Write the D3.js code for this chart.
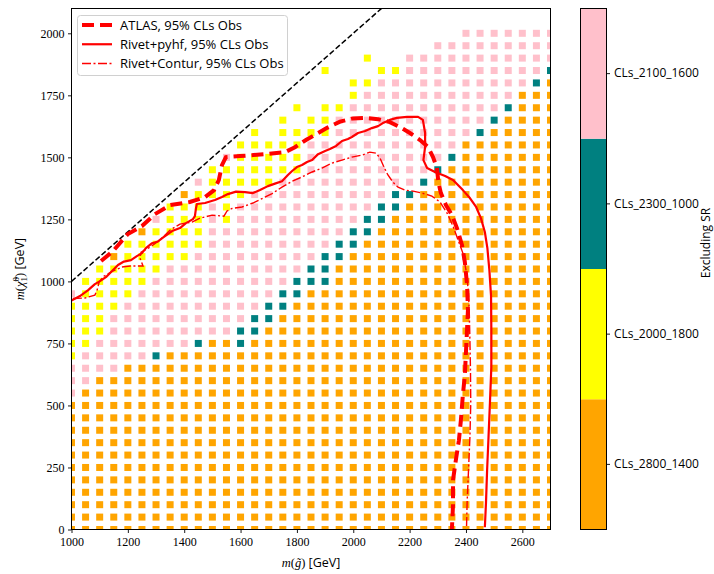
<!DOCTYPE html>
<html><head><meta charset="utf-8">
<script src="https://cdn.jsdelivr.net/npm/d3@7"></script>
<style>body{margin:0;background:#fff}svg{display:block}</style>
</head><body><svg id="chart" width="714" height="574"></svg>
<script>
// ---------------- data ----------------
const gluinoMass = [1000,1050,1100,1150,1200,1250,1300,1350,1400,1450,1500,1550,1600,1650,1700,1750,1800,1850,1900,1950,2000,2050,2100,2150,2200,2250,2300,2350,2400,2450,2500,2550,2600,2650,2700];
const neutralinoMass = [0,50,100,150,200,250,300,350,400,450,500,550,600,650,700,750,800,850,900,950,1000,1050,1100,1150,1200,1250,1300,1350,1400,1450,1500,1550,1600,1650,1700,1750,1800,1850,1900,1950,2000];
// one string per neutralino mass (bottom to top), one character per gluino mass
// O = CLs_2800_1400, Y = CLs_2000_1800, T = CLs_2300_1000, P = CLs_2100_1600, . = no point
const srRows = [
"OOOOO OOOOO OOOOO OOOOO OOOOO OOOOO OOOOO",
"OOOOO OOOOO OOOOO OOOOO OOOOO OOOOO OOOOO",
"OOOOO OOOOO OOOOO OOOOO OOOOO OOOOO OOOOO",
"OOOOO OOOOO OOOOO OOOOO OOOOO OOOOO OOOOO",
"OOOOO OOOOO OOOOO OOOOO OOOOO OOOOO OOOOO",
"OOOOO OOOOO OOOOO OOOOO OOOOO OOOOO OOOOO",
"OOOOO OOOOO OOOOO OOOOO OOOOO OOOOO OOOOO",
"OOOOO OOOOO OOOOO OOOOO OOOOO OOOOO OOOOO",
"OOOOO OOOOO OOOOO OOOOO OOOOO OOOOO OOOOO",
"OOOOO OOOOO OOOOO OOOOO OOOOO OOOOO OOOOO",
"OOOOO OOOOO OOOOO OOOOO OOOOO OOOOO OOOOO",
"POOOO OOOOO OOOOO OOOOO OOOOO OOOOO OOOOO",
"PPOOO OOOOO OOOOO OOOOO OOOOO OOOOO OOOOO",
"PPPPO OOOOO OOOOO OOOOO OOOOO OOOOO OOOOO",
"YPPPP PTOOO OOOOO OOOOO OOOOO OOOOO OOOOO",
"YYPPP PPPPT OOTOO OOOOO OOOOO OOOOO OOOOO",
"YYYPP PPPPP PPTTO OOOOO OOOOO OOOOO OOOOO",
"YYYPP PPPPP PPPTT OOOOO OOOOO OOOOO OOOOO",
"YYYYP PPPPP PPPPT TOOOO OOOOO OOOOO OOOOO",
"PYYYY PPPPP PPPPP TTOOO OOOOO OOOOO OOOOO",
".YYYY YPPPP PPPPP PTTTO OOOOO OOOOO OOOOO",
"..YYY YYPPP PPPPP PPTTO OOOOO OOOOO OOOOO",
"...OY YYYYP PPPPP PPPTT OOOOO OOOOO OOOOO",
"....Y YYYYY PPPPP PPPPT TOOOO OOOOO OOOOO",
"..... OYYYY PPPPP PPPPP TTOOO OOOOO OOOOO",
"..... .PYYY PYPPP PPPPP PTTOO OOOOO OOOOO",
"..... ..YYY PYPPP PPPPP PPTTO OOOOO OOOOO",
"..... ...OY YYYPP PPPPP PPPTT OOOOO OOOOO",
"..... ....P YYYYY PPPPP PPPPP TOOOO OOOOO",
"..... ..... YYYYY YYPPP PPPPP PTOOO OOOOO",
"..... ..... .PYYY YYPPP PPPPP PPTOO OOOOO",
"..... ..... ..YYY YYPPP PPPPP PPPOO OOOOO",
"..... ..... ...Y. YYYYP PPPPP PPPPT OOOOO",
"..... ..... ..... Y.YYP PPPPP PPPPP TOOOO",
"..... ..... ..... .Y.YY PPPPP PPPPP PTOOO",
"..... ..... ..... ..... YPPPP PPPPP PPOOO",
"..... ..... ..... ..... YYPPP PPPPP PPPTO",
"..... ..... ..... ...Y. ..YYP PPPPP PPPPT",
"..... ..... ..... ..... .Y..P PPPPP PPPPP",
"..... ..... ..... ..... ..... .PPPP PPPPP",
"..... ..... ..... ..... ..... ...PP PPPPP"
];
const srCodes = ["O","Y","T","P"];
const srCategories = ["CLs_2800_1400","CLs_2000_1800","CLs_2300_1000","CLs_2100_1600"];
const srColors = ["#ffa500","#ffff00","#008080","#ffc0cb"];

const atlasX = [1105,1147,1200,1250,1296,1350,1420,1474,1506,1523,1534,1548,1598,1687,1758,1793,1832,1864,1907,1953,1999,2042,2088,2130,2166,2201,2237,2265,2283,2297,2302,2311,2329,2350,2368,2386,2396,2404,2407,2402,2396,2389,2382,2375,2364,2354,2354,2350];
const atlasY = [1082,1122,1191,1223,1271,1308,1320,1340,1368,1409,1469,1501,1505,1513,1521,1541,1570,1590,1619,1644,1657,1659,1654,1642,1622,1598,1570,1542,1501,1457,1400,1356,1308,1267,1215,1146,1078,985,884,763,622,542,441,360,279,199,98,0];

const pyhfX = [1000,1030,1059,1083,1101,1122,1144,1165,1186,1211,1232,1250,1264,1286,1307,1328,1357,1385,1406,1431,1438,1442,1445,1474,1509,1534,1555,1584,1616,1644,1669,1697,1722,1747,1768,1783,1800,1818,1836,1854,1875,1900,1917,1939,1960,1981,1995,2017,2042,2066,2088,2105,2130,2155,2191,2230,2247,2255,2255,2249,2262,2290,2326,2354,2389,2414,2436,2453,2467,2476,2483,2489,2490,2490,2485,2480,2475,2471,2467];
const pyhfY = [923,941,965,989,1001,1017,1042,1066,1080,1086,1102,1114,1134,1154,1161,1179,1203,1215,1235,1251,1263,1296,1312,1316,1328,1340,1352,1362,1360,1356,1368,1384,1394,1404,1429,1445,1461,1469,1481,1489,1513,1526,1534,1546,1566,1574,1582,1598,1606,1618,1626,1638,1651,1659,1663,1663,1651,1598,1542,1489,1457,1441,1425,1409,1368,1336,1300,1255,1199,1134,1046,941,804,654,509,372,239,106,9];

const conturX = [1005,1048,1083,1091,1098,1115,1144,1179,1208,1254,1243,1247,1279,1314,1350,1385,1428,1456,1499,1541,1552,1570,1605,1644,1680,1712,1747,1783,1818,1854,1889,1925,1960,1995,2031,2059,2081,2095,2109,2123,2141,2159,2184,2212,2244,2279,2308,2333,2354,2372,2389,2402,2409,2412,2414,2416,2417,2414,2409,2404,2402];
const conturY = [931,933,945,965,997,1021,1040,1058,1062,1062,1094,1118,1138,1167,1207,1231,1239,1255,1267,1263,1284,1294,1300,1316,1336,1354,1380,1404,1421,1441,1457,1477,1489,1501,1509,1521,1517,1497,1461,1429,1400,1380,1368,1364,1356,1344,1320,1275,1223,1167,1114,1034,953,864,763,642,509,372,239,106,9];

const diagonalX = [1000,2700];
const diagonalY = [1000,2700];

const xTicks = [1000,1200,1400,1600,1800,2000,2200,2400,2600];
const yTicks = [0,250,500,750,1000,1250,1500,1750,2000];
const legendLabels = ["ATLAS, 95% CLs Obs","Rivet+pyhf, 95% CLs Obs","Rivet+Contur, 95% CLs Obs"];

// ---------------- drawing ----------------
const svg = d3.select("#chart");
svg.append("rect").attr("width",714).attr("height",574).attr("fill","#fff");

const L = 71.5, R = 550.5, T = 8.5, B = 529.5;
const x = d3.scaleLinear().domain([1000,2700]).range([L,R]);
const y = d3.scaleLinear().domain([0,2100]).range([B,T]);
const colorOf = d3.scaleOrdinal().domain(srCodes).range(srColors);

svg.append("defs").append("clipPath").attr("id","plotclip")
  .append("rect").attr("x",L).attr("y",T).attr("width",R-L).attr("height",B-T);

const plot = svg.append("g").attr("clip-path","url(#plotclip)");

const pts = [];
srRows.forEach((row,j)=>{
  const s = row.replace(/ /g,"");
  for(let i=0;i<s.length;i++){
    if(s[i]!==".") pts.push({gx:gluinoMass[i], ny:neutralinoMass[j], c:s[i]});
  }
});
const sq = 7;
plot.selectAll("rect.pt").data(pts).join("rect").attr("class","pt")
  .attr("x",d=>x(d.gx)-sq/2).attr("y",d=>y(d.ny)-sq/2)
  .attr("width",sq).attr("height",sq).attr("fill",d=>colorOf(d.c));

const line = d3.line().x(d=>x(d[0])).y(d=>y(d[1]));
const zip = (a,b)=>a.map((v,i)=>[v,b[i]]);

plot.append("path").attr("d",line(zip(diagonalX,diagonalY)))
  .attr("fill","none").attr("stroke","#000").attr("stroke-width",1.5).attr("stroke-dasharray","5.5,2.5");
plot.append("path").attr("d",line(zip(atlasX,atlasY)))
  .attr("fill","none").attr("stroke","#ff0000").attr("stroke-width",4).attr("stroke-dasharray","12,6");
plot.append("path").attr("d",line(zip(pyhfX,pyhfY)))
  .attr("fill","none").attr("stroke","#ff0000").attr("stroke-width",2.2).attr("stroke-linejoin","round");
plot.append("path").attr("d",line(zip(conturX,conturY)))
  .attr("fill","none").attr("stroke","#ff0000").attr("stroke-width",1.4).attr("stroke-dasharray","9,2.5,2,2.5");

// axes
const serif = "'Liberation Serif','DejaVu Serif',serif";
const sans = "'Open Sans','DejaVu Sans',sans-serif";
const xAxis = svg.append("g").attr("transform",`translate(0,${B})`)
  .call(d3.axisBottom(x).tickValues(xTicks).tickSize(3.5).tickPadding(4.5).tickFormat(d3.format("d")));
const yAxis = svg.append("g").attr("transform",`translate(${L},0)`)
  .call(d3.axisLeft(y).tickValues(yTicks).tickSize(3.5).tickPadding(3.5).tickFormat(d3.format("d")));
[xAxis,yAxis].forEach(g=>{
  g.select(".domain").remove();
  g.selectAll("line").attr("stroke","#000").attr("stroke-width",0.9);
  g.selectAll("text").attr("font-family",serif).attr("font-size","12px").attr("fill","#000");
});
svg.append("rect").attr("x",L).attr("y",T).attr("width",R-L).attr("height",B-T)
  .attr("fill","none").attr("stroke","#000").attr("stroke-width",1);

// axis labels
const xl = svg.append("text").attr("x",(L+R)/2).attr("y",567).attr("text-anchor","middle")
  .attr("font-size","12.5px").attr("fill","#000");
xl.append("tspan").attr("font-family",serif).attr("font-style","italic").text("m");
xl.append("tspan").attr("font-family",serif).text("(");
xl.append("tspan").attr("font-family",serif).attr("font-style","italic").text("g\u0303");
xl.append("tspan").attr("font-family",serif).text(")");
xl.append("tspan").attr("font-family",sans).text(" [GeV]");

const yl = svg.append("text").attr("transform",`translate(24,${(T+B)/2}) rotate(-90)`)
  .attr("text-anchor","middle").attr("font-size","12.5px").attr("fill","#000");
yl.append("tspan").attr("font-family",serif).attr("font-style","italic").text("m");
yl.append("tspan").attr("font-family",serif).text("(");
yl.append("tspan").attr("font-family",serif).attr("font-style","italic").text("\u03c7\u0303");
yl.append("tspan").attr("font-family",serif).attr("font-size","9px").attr("dy",-5).text("0");
yl.append("tspan").attr("font-family",serif).attr("font-size","9px").attr("dx",-4.5).attr("dy",8).text("1");
yl.append("tspan").attr("font-family",serif).attr("dy",-3).text(")");
yl.append("tspan").attr("font-family",sans).text(" [GeV]");

// legend
const lg = svg.append("g");
lg.append("rect").attr("x",77.5).attr("y",15.5).attr("width",210).attr("height",60).attr("rx",3)
  .attr("fill","#fff").attr("fill-opacity",0.85).attr("stroke","#d0d0d0").attr("stroke-width",1);
const legendStyles = [
  {w:4, dash:"12,6"},
  {w:2.2, dash:null},
  {w:1.4, dash:"9,2.5,2,2.5"}
];
const legendY = d3.scalePoint().domain(legendLabels).range([25,63.5]);
legendLabels.forEach((lab,k)=>{
  const yy = legendY(lab);
  const ln = lg.append("line").attr("x1",82).attr("x2",112).attr("y1",yy).attr("y2",yy)
    .attr("stroke","#ff0000").attr("stroke-width",legendStyles[k].w);
  if(legendStyles[k].dash) ln.attr("stroke-dasharray",legendStyles[k].dash);
  lg.append("text").attr("x",120).attr("y",yy).attr("dy","0.35em")
    .attr("font-family",sans).attr("font-size","13px").attr("fill","#000").text(lab);
});

// colorbar
const cbL = 580.5, cbR = 606.5, cbT = 8.5, cbB = 529.5;
const cb = d3.scaleBand().domain(srCategories).range([cbB,cbT]);
svg.selectAll("rect.cb").data(srCategories).join("rect").attr("class","cb")
  .attr("x",cbL).attr("y",d=>cb(d)).attr("width",cbR-cbL).attr("height",cb.bandwidth())
  .attr("fill",(d,i)=>srColors[i]);
svg.append("rect").attr("x",cbL).attr("y",cbT).attr("width",cbR-cbL).attr("height",cbB-cbT)
  .attr("fill","none").attr("stroke","#000").attr("stroke-width",1);
const cbAxis = svg.append("g").attr("transform",`translate(${cbR},0)`)
  .call(d3.axisRight(cb).tickSize(3.5).tickPadding(4));
cbAxis.select(".domain").remove();
cbAxis.selectAll("line").attr("stroke","#000").attr("stroke-width",0.9);
cbAxis.selectAll("text").attr("font-family",sans).attr("font-size","12px").attr("fill","#000");
svg.append("text").attr("transform",`translate(710,243) rotate(-90)`)
  .attr("text-anchor","middle").attr("font-family",sans).attr("font-size","12px").attr("fill","#000")
  .text("Excluding SR");
</script></body></html>
